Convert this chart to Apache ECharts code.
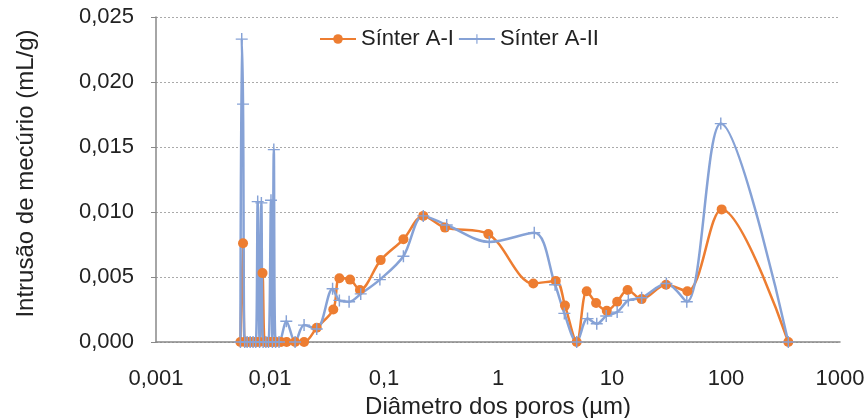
<!DOCTYPE html>
<html>
<head>
<meta charset="utf-8">
<script src="https://cdn.jsdelivr.net/npm/echarts@6/dist/echarts.min.js"></script>
<style>
  html, body { margin: 0; padding: 0; background: #fff; }
  #chart { width: 868px; height: 418px; }
</style>
</head>
<body>
<div id="chart"></div>
<script>
// Sínter A-I
const sizesA1 = [0.0055, 0.0058, 0.0060, 0.0063, 0.0067, 0.0071, 0.0076, 0.0081, 0.0086, 0.0090,
  0.0095, 0.0101, 0.0107, 0.0114, 0.0125, 0.0140, 0.0166, 0.0199, 0.0257, 0.0359,
  0.0406, 0.0504, 0.0615, 0.0935, 0.148, 0.221, 0.343, 0.822, 2.04, 3.21,
  3.87, 4.9, 6.0, 7.25, 9.0, 11.1, 13.7, 18.2, 29.8, 45.8, 91.6, 352]
const intrusionA1 = [0, 0.0076, 0, 0, 0, 0, 0, 0, 0.0053, 0,
  0, 0, 0, 0, 0, 0, 0, 0, 0.0011, 0.0025,
  0.0049, 0.0048, 0.0040, 0.0063, 0.0079, 0.0097, 0.0088, 0.0083, 0.0045, 0.0047,
  0.0028, 0, 0.0039, 0.0030, 0.0024, 0.0031, 0.0040, 0.0033, 0.0044, 0.0039, 0.0102, 0]

// Sínter A-II
const sizesA2 = [0.0055, 0.00565, 0.0058, 0.0060, 0.0063, 0.0067, 0.0071, 0.0075, 0.0078, 0.0081,
  0.0084, 0.0087, 0.0092, 0.0097, 0.0102, 0.0105, 0.0108, 0.0112, 0.0120, 0.0139,
  0.0166, 0.0199, 0.0257, 0.0354, 0.0406, 0.0494, 0.0625, 0.092, 0.148, 0.221,
  0.355, 0.838, 2.08, 3.17, 3.82, 4.9, 6.1, 7.35, 8.9, 11.1,
  13.9, 18.2, 30, 45.3, 90, 352]
const intrusionA2 = [0, 0.0233, 0.0183, 0, 0, 0, 0, 0, 0.0108, 0,
  0.0107, 0, 0, 0, 0.0109, 0, 0.0148, 0, 0, 0.0016,
  0, 0.0013, 0.0010, 0.0041, 0.0032, 0.0031, 0.0037, 0.0048, 0.0066, 0.0097,
  0.0090, 0.0077, 0.0084, 0.0044, 0.0022, 0, 0.0018, 0.0014, 0.0020, 0.0023,
  0.0032, 0.0034, 0.0045, 0.0031, 0.0168, 0]

const seriesNames = ['Sínter A-I', 'Sínter A-II']
const xMin = 0.001
const xMax = 1000
const yMax = 0.025
const yStep = 0.005

const zip = (xs, ys) => xs.map((x, i) => [x, ys[i]])
const plusSymbol = 'path://M4.4,0h1.2v10h-1.2z M0,4.4h10v1.2h-10z'
const textColor = '#222'
const fontFamily = 'Liberation Sans, Arial, sans-serif'

const chart = echarts.init(document.getElementById('chart'))
chart.setOption({
  animation: false,
  textStyle: { fontFamily: fontFamily },
  grid: { left: 156, right: 28, top: 17, bottom: 76, outerBoundsMode: 'none', containLabel: false },
  legend: {
    left: 314,
    top: 23,
    itemWidth: 36,
    itemHeight: 12,
    itemGap: 4,
    textStyle: { fontSize: 22, color: textColor, fontFamily: fontFamily },
    data: seriesNames
  },
  xAxis: {
    type: 'log',
    logBase: 10,
    min: xMin,
    max: xMax,
    name: 'Diâmetro dos poros (µm)',
    nameLocation: 'middle',
    nameGap: 50,
    nameTextStyle: { fontSize: 24, color: textColor },
    axisLine: { onZero: false, lineStyle: { color: '#888', width: 1.5 } },
    axisTick: { show: false },
    splitLine: { show: false },
    minorTick: { show: false },
    axisLabel: {
      fontSize: 22,
      color: textColor,
      margin: 26,
      formatter: v => String(Number(v.toPrecision(6))).replace('.', ',')
    }
  },
  yAxis: {
    type: 'value',
    position: 'left',
    min: 0,
    max: yMax,
    interval: yStep,
    name: 'Intrusão de mecúrio (mL/g)',
    nameLocation: 'middle',
    nameGap: 118,
    nameTextStyle: { fontSize: 24, color: textColor, padding: [0, 0, 0, 12] },
    axisLine: { show: true, onZero: false, lineStyle: { color: '#888', width: 1.5 } },
    axisTick: { show: true, length: 5, lineStyle: { color: '#888' } },
    splitLine: { show: true, lineStyle: { color: '#aaa', type: [2, 2], width: 1 } },
    axisLabel: {
      fontSize: 22,
      color: textColor,
      margin: 22,
      formatter: v => v.toFixed(3).replace('.', ',')
    }
  },
  series: [
    {
      name: seriesNames[0],
      type: 'line',
      smooth: 0.33,
      data: zip(sizesA1, intrusionA1),
      symbol: 'circle',
      symbolSize: 10,
      itemStyle: { color: '#ED7D31' },
      lineStyle: { color: '#ED7D31', width: 2.5 }
    },
    {
      name: seriesNames[1],
      type: 'line',
      smooth: 0.33,
      data: zip(sizesA2, intrusionA2),
      symbol: plusSymbol,
      symbolSize: 12,
      itemStyle: { color: '#86A2D6' },
      lineStyle: { color: '#86A2D6', width: 2.5 }
    }
  ]
})
</script>
</body>
</html>
